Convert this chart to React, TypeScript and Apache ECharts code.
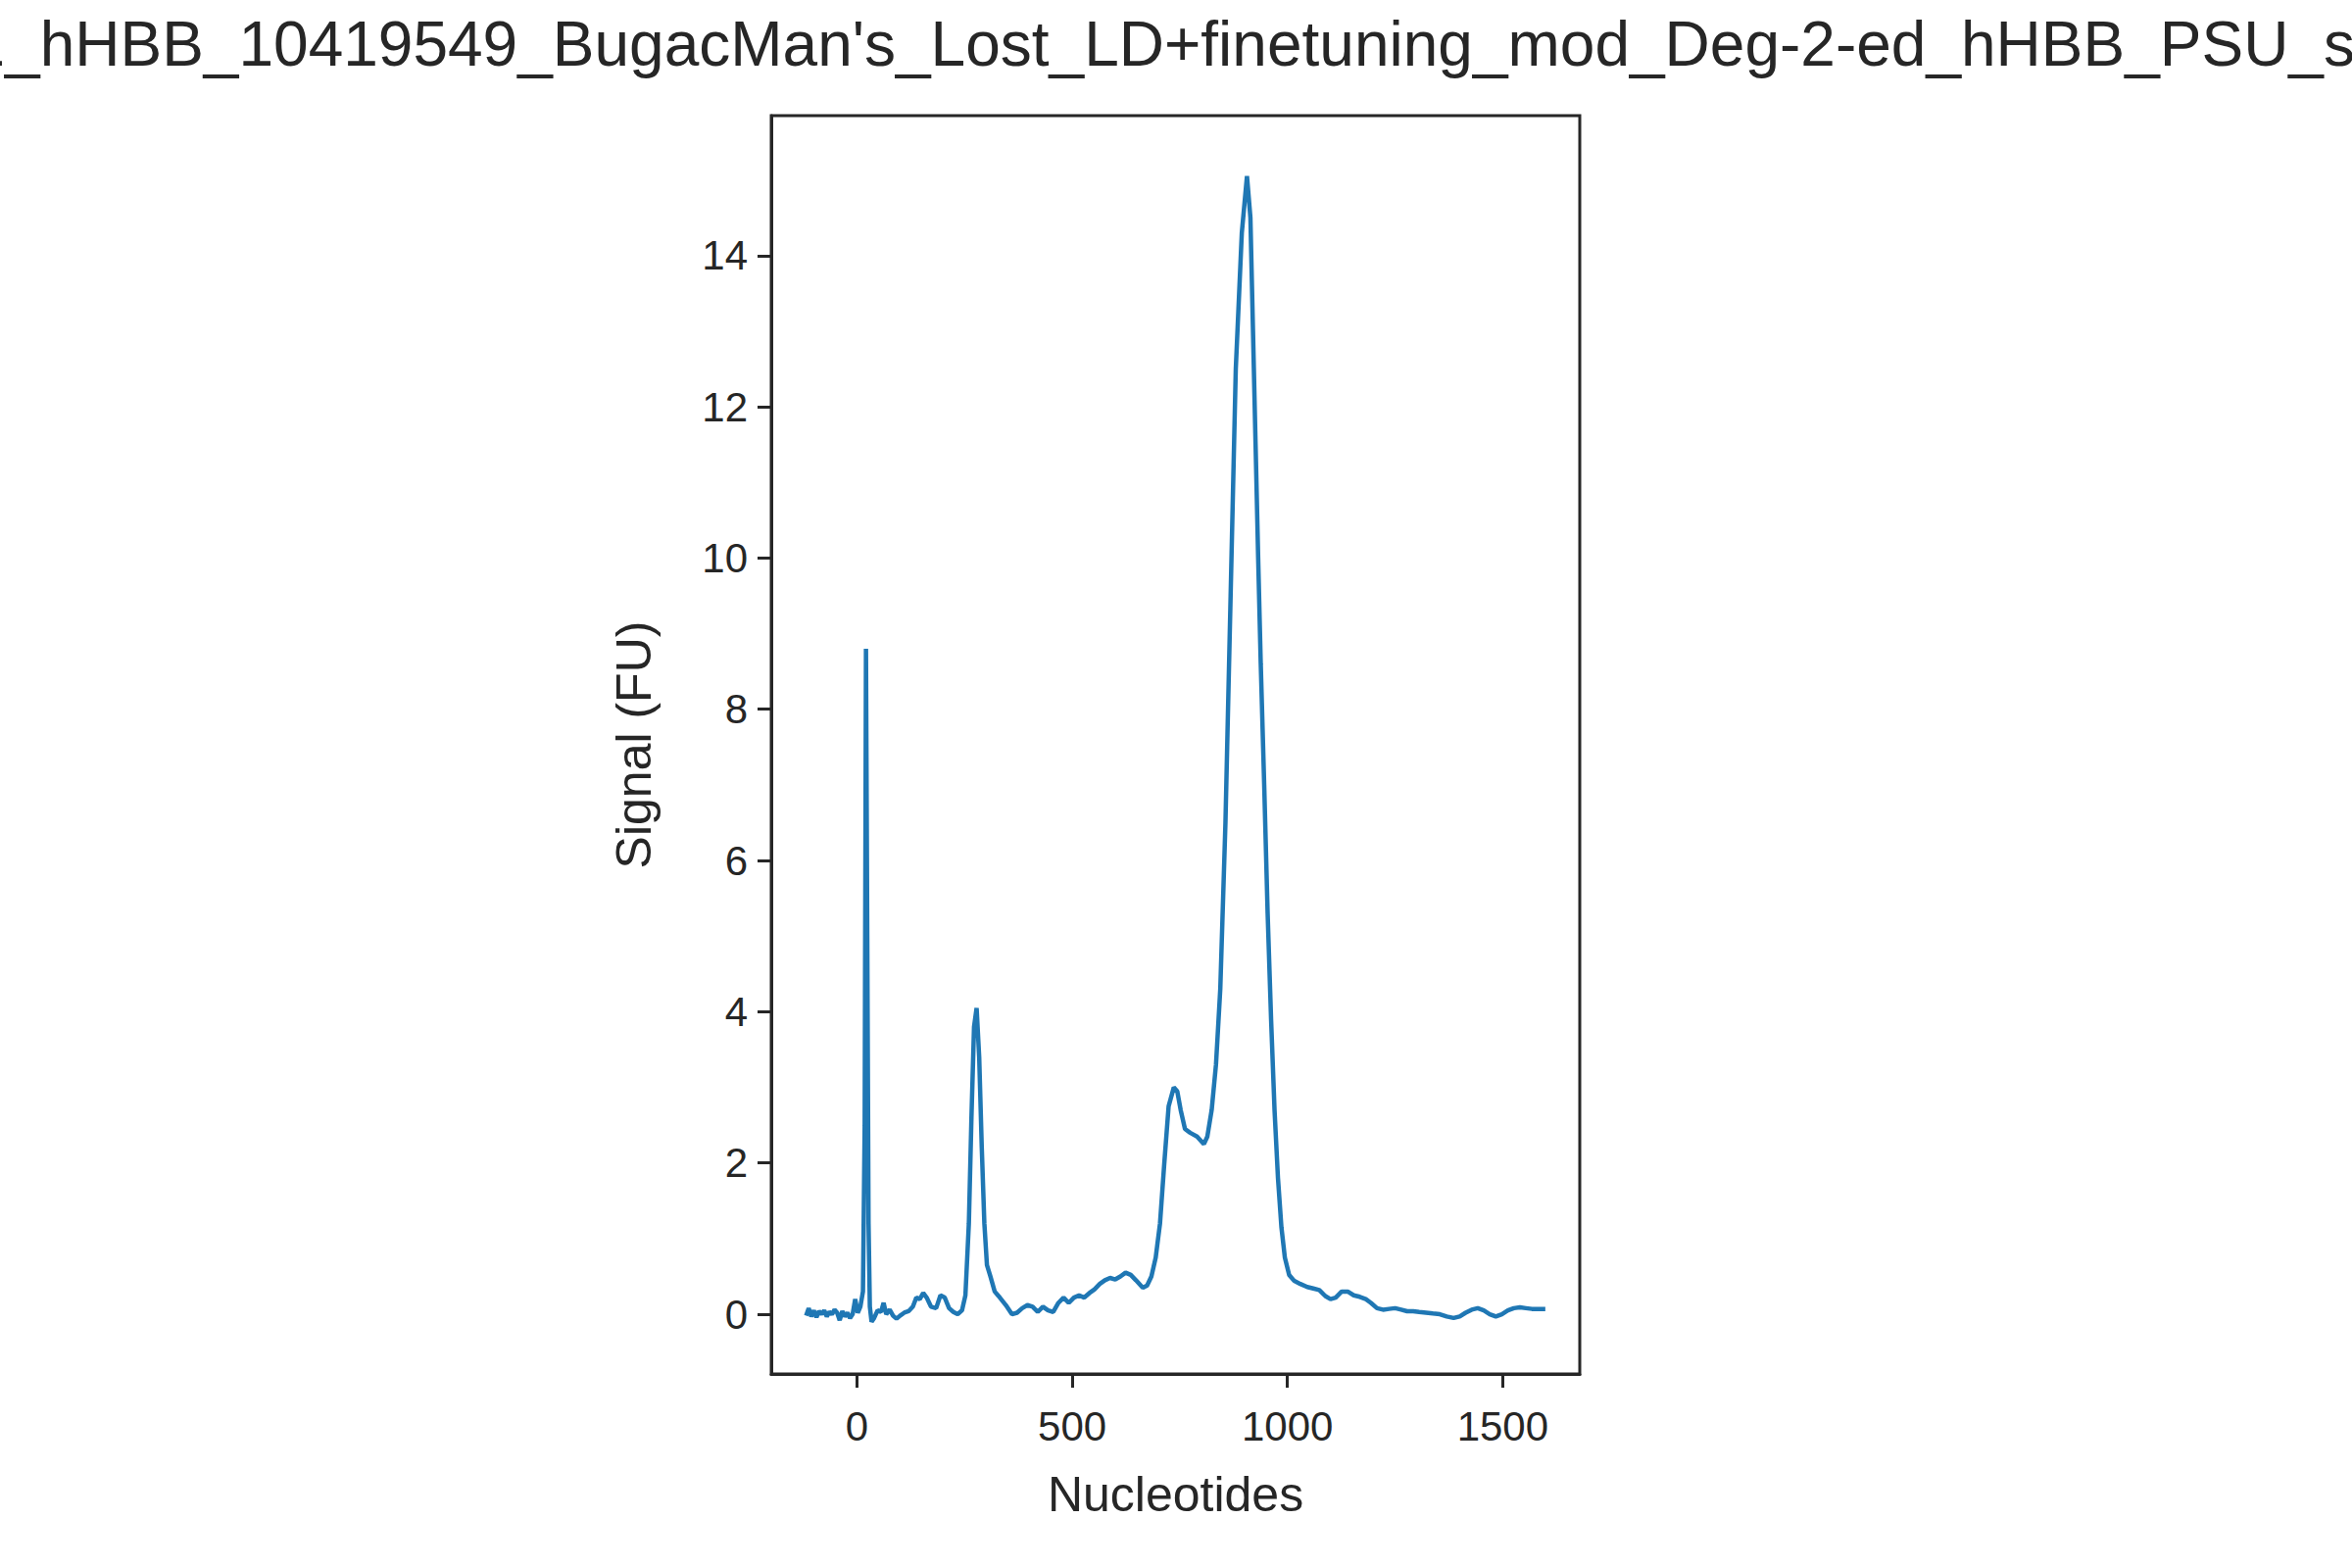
import { useEffect, useRef } from "react";
import * as echarts from "echarts";

const TITLE = "1_hHBB_10419549_BugacMan's_Lost_LD+finetuning_mod_Deg-2-ed_hHBB_PSU_sa";

// nucleotide position, signal (FU)
const nucleotides = [
  -118, -112, -106, -100, -94, -88, -82, -76, -70, -64, -58, -52, -46, -40, -34, -28, -22, -16, -10, -4,
  2, 8, 14, 18, 21, 24, 27, 30, 34, 40, 48, 56, 62, 68, 76, 84, 92, 100, 110, 120,
  130, 138, 146, 154, 162, 172, 184, 194, 204, 214, 224, 234, 244, 252, 260, 266, 272, 278, 284, 290,
  296, 302, 310, 320, 332, 346, 360, 372, 384, 396, 408, 420, 432, 444, 456, 468, 480, 492, 504, 516,
  528, 540, 552, 564, 576, 588, 600, 612, 624, 636, 648, 664, 674, 684, 694, 704, 714, 724, 736, 744,
  752, 762, 774, 790, 806, 814, 824, 834, 844, 856, 868, 880, 894, 906, 914, 920, 926, 932, 938, 946,
  954, 962, 970, 978, 986, 994, 1004, 1016, 1030, 1046, 1060, 1074, 1088, 1100, 1112, 1126, 1140, 1154, 1168, 1182,
  1194, 1208, 1222, 1236, 1250, 1264, 1278, 1292, 1306, 1322, 1338, 1354, 1370, 1386, 1400, 1414, 1428, 1442, 1456, 1470,
  1484, 1498, 1512, 1526, 1540, 1554, 1568, 1582, 1599,
];
const signal = [
  -0.02, 0.08, -0.03, 0.05, -0.04, 0.04, 0.0, 0.05, -0.03, 0.03, 0.0, 0.06, 0.02, -0.08, 0.04, -0.03, 0.02, -0.05, 0.0, 0.2,
  0.02, 0.1, 0.3, 2.5, 8.8, 5.0, 1.2, 0.1, -0.1, -0.05, 0.05, 0.03, 0.15, 0.0, 0.06, -0.02, -0.06, -0.02, 0.02, 0.04,
  0.1, 0.22, 0.2, 0.28, 0.22, 0.1, 0.08, 0.25, 0.22, 0.08, 0.03, 0.0, 0.05, 0.25, 1.2, 2.6, 3.8, 4.05, 3.4, 2.2,
  1.2, 0.65, 0.5, 0.3, 0.22, 0.12, 0.0, 0.02, 0.08, 0.12, 0.1, 0.03, 0.1, 0.05, 0.03, 0.15, 0.22, 0.15, 0.22, 0.25,
  0.22, 0.28, 0.33, 0.4, 0.45, 0.48, 0.46, 0.5, 0.55, 0.52, 0.45, 0.35, 0.38, 0.5, 0.75, 1.2, 2.0, 2.75, 3.0, 2.95,
  2.7, 2.45, 2.4, 2.35, 2.25, 2.35, 2.7, 3.3, 4.3, 6.5, 9.5, 12.5, 14.3, 15.05, 14.5, 13.0, 11.5, 10.0, 8.6, 7.0,
  5.3, 3.9, 2.7, 1.8, 1.15, 0.75, 0.52, 0.44, 0.4, 0.36, 0.34, 0.32, 0.24, 0.2, 0.22, 0.3, 0.3, 0.25, 0.23, 0.2,
  0.15, 0.08, 0.06, 0.07, 0.08, 0.06, 0.04, 0.04, 0.03, 0.02, 0.01, 0.0, -0.03, -0.05, -0.03, 0.02, 0.06, 0.08, 0.05, 0.0,
  -0.03, 0.0, 0.05, 0.08, 0.09, 0.08, 0.07, 0.07, 0.07,
];

const xTicks = [0, 500, 1000, 1500];
const yTicks = [0, 2, 4, 6, 8, 10, 12, 14];

const INK = "#262626";
const FONT = "Liberation Sans";

export default function App() {
  const chartRef = useRef<HTMLDivElement>(null);

  useEffect(() => {
    if (!chartRef.current) return;
    document.body.style.margin = "0";
    const chart = echarts.init(chartRef.current, null, { renderer: "svg" });

    const option: echarts.EChartsOption = {
      animation: false,
      backgroundColor: "#ffffff",
      title: {
        text: TITLE,
        left: 1199,
        top: 8,
        textAlign: "center",
        textStyle: { fontFamily: FONT, fontSize: 64, fontWeight: "normal", color: INK },
      },
      grid: {
        left: 787,
        right: 2400 - 1612,
        top: 118,
        bottom: 1600 - 1402,
        show: true,
        borderColor: INK,
        borderWidth: 3,
      },
      xAxis: {
        type: "value",
        min: -199,
        max: 1679,
        name: "Nucleotides",
        nameLocation: "middle",
        nameGap: 98,
        nameTextStyle: { fontFamily: FONT, fontSize: 50, color: INK },
        axisLine: { show: true, onZero: false, lineStyle: { color: INK, width: 3 } },
        axisTick: { show: true, customValues: xTicks, length: 14, lineStyle: { color: INK, width: 3 } },
        axisLabel: {
          customValues: xTicks,
          formatter: (v: number) => String(v),
          fontFamily: FONT,
          fontSize: 42,
          color: INK,
          margin: 32,
        },
        splitLine: { show: false },
      },
      yAxis: {
        type: "value",
        min: -0.79,
        max: 15.85,
        name: "Signal (FU)",
        nameLocation: "middle",
        nameRotate: 90,
        nameGap: 115,
        nameTextStyle: { fontFamily: FONT, fontSize: 50, color: INK },
        axisLine: { show: true, onZero: false, lineStyle: { color: INK, width: 3 } },
        axisTick: { show: true, customValues: yTicks, length: 14, lineStyle: { color: INK, width: 3 } },
        axisLabel: {
          customValues: yTicks,
          formatter: (v: number) => String(v),
          fontFamily: FONT,
          fontSize: 42,
          color: INK,
          margin: 24,
        },
        splitLine: { show: false },
      },
      series: [
        {
          type: "line",
          data: nucleotides.map((n, i) => [n, signal[i]]),
          showSymbol: false,
          lineStyle: { color: "#1f77b4", width: 4.5 },
          itemStyle: { color: "#1f77b4" },
        },
      ],
    };

    chart.setOption(option);
    return () => chart.dispose();
  }, []);

  return <div ref={chartRef} style={{ width: 2400, height: 1600 }} />;
}
